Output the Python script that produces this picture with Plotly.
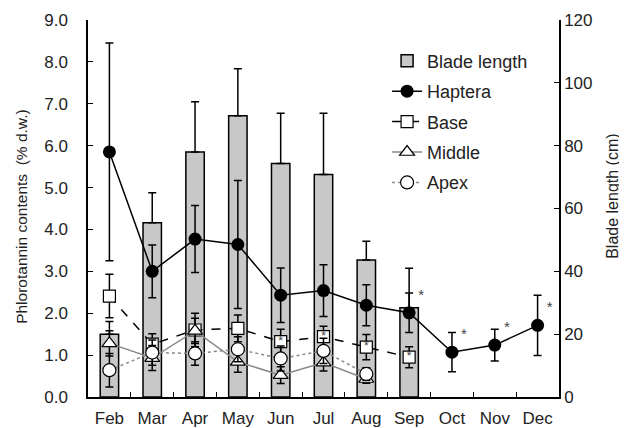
import plotly.graph_objects as go

months = ["Feb", "Mar", "Apr", "May", "Jun", "Jul", "Aug", "Sep", "Oct", "Nov", "Dec"]
blade_len = [20, 55.5, 78, 89.5, 74.3, 70.8, 43.6, 28.4]
blade_err = [4, 9.5, 16, 15, 16, 19.5, 6, 12.6]
haptera = [5.85, 3.0, 3.77, 3.64, 2.43, 2.54, 2.19, 2.01, 1.07, 1.24, 1.71]
haptera_err = [2.6, 0.63, 0.8, 1.53, 0.65, 0.62, 0.49, 0.47, 0.47, 0.38, 0.72]
haptera_sig = ["", "", "", "", "", "", "", "*", "*", "*", "*"]
base = [2.41, 1.26, 1.6, 1.64, 1.32, 1.44, 1.19, 0.95]
base_err = [0.52, 0.25, 0.4, 0.32, 0.3, 0.25, 0.3, 0.25]
base_sig = ["", "", "", "", "*", "*", "*", "*"]
middle = [1.28, 0.93, 1.58, 0.84, 0.52, 0.82, 0.43]
middle_err = [0.3, 0.3, 0.3, 0.25, 0.2, 0.2, 0.1]
apex = [0.64, 1.06, 1.04, 1.14, 0.92, 1.1, 0.55]
apex_err = [0.4, 0.3, 0.28, 0.3, 0.3, 0.3, 0.15]

FONT = "Liberation Sans, Arial, sans-serif"
FS = 18
TFS = 17

def errs(arr, w=4):
    return dict(type="data", array=arr, visible=True, color="black", thickness=1.5, width=w)

fig = go.Figure()
fig.add_trace(go.Bar(
    x=months[:len(blade_len)], y=blade_len, name="Blade length", yaxis="y", legendgroup="a",
    marker=dict(color="#c8c8c8", line=dict(color="black", width=1.5)),
    error_y=dict(type="data", array=blade_err, arrayminus=[0]*len(blade_err), symmetric=False,
                 visible=True, color="black", thickness=1.5, width=4),
))
fig.add_trace(go.Scatter(
    x=months, y=haptera, name="Haptera", yaxis="y2", mode="lines+markers+text", legendgroup="b",
    text=haptera_sig, textposition="top right", textfont=dict(size=15, color="#444"),
    line=dict(color="black", width=1.5),
    marker=dict(symbol="circle", size=13, color="black"),
    error_y=errs(haptera_err),
))
fig.add_trace(go.Scatter(
    x=months[:len(base)], y=base, name="Base", yaxis="y2", mode="lines+markers+text", legendgroup="c",
    text=base_sig, textposition="middle center", textfont=dict(size=12, color="#444"),
    line=dict(color="black", width=1.5, dash="dash"),
    marker=dict(symbol="square", size=12, color="white", line=dict(color="black", width=1.2)),
    error_y=errs(base_err),
))
fig.add_trace(go.Scatter(
    x=months[:len(middle)], y=middle, name="Middle", yaxis="y2", mode="lines+markers", legendgroup="d",
    line=dict(color="#888888", width=1.5),
    marker=dict(symbol="triangle-up", size=13, color="white", line=dict(color="black", width=1.2)),
    error_y=errs(middle_err),
))
fig.add_trace(go.Scatter(
    x=months[:len(apex)], y=apex, name="Apex", yaxis="y2", mode="lines+markers", legendgroup="e",
    line=dict(color="#888888", width=1.5, dash="dot"),
    marker=dict(symbol="circle", size=13, color="white", line=dict(color="black", width=1.2)),
    error_y=errs(apex_err),
))

fig.update_layout(
    width=627, height=428,
    margin=dict(l=80, r=76, t=12, b=39),
    paper_bgcolor="white", plot_bgcolor="white",
    font=dict(family=FONT, size=FS, color="#222"),
    bargap=0.57,
    showlegend=True,
    legend=dict(x=0.635, y=0.94, xanchor="left", yanchor="top", bgcolor="rgba(0,0,0,0)",
                font=dict(size=FS), itemwidth=30, tracegroupgap=4, traceorder="grouped"),
    xaxis=dict(type="category", categoryorder="array", categoryarray=months,
               range=[-0.5, len(months) - 0.5], automargin=False,
               showline=True, linecolor="black", linewidth=1.5,
               ticks="inside", tickson="boundaries", ticklen=5, tickcolor="black",
               tickfont=dict(size=TFS), ticklabelstandoff=5,
               showgrid=False, zeroline=False),
    yaxis=dict(range=[0, 120], tickvals=[0, 20, 40, 60, 80, 100, 120], side="right",
               automargin=False, tickprefix="\u00a0\u00a0", tickfont=dict(size=TFS),
               showline=True, linecolor="black", linewidth=1.5,
               ticks="inside", ticklen=5, tickcolor="black", showgrid=False, zeroline=False),
    yaxis2=dict(range=[0, 9], tickvals=[0, 1, 2, 3, 4, 5, 6, 7, 8, 9], tickformat=".1f",
                overlaying="y", side="left", anchor="x", automargin=False, ticklabelstandoff=15,
                tickfont=dict(size=TFS),
                showline=True, linecolor="black", linewidth=1.5,
                ticks="inside", ticklen=5, tickcolor="black", showgrid=False, zeroline=False),
    annotations=[
        dict(text="Phlorotannin contents  (% d.w.)", xref="paper", yref="paper",
             x=-0.14, y=0.478, xanchor="center", yanchor="middle", textangle=-90,
             showarrow=False, font=dict(size=15.5)),
        dict(text="Blade length (cm)", xref="paper", yref="paper",
             x=1.112, y=0.533, xanchor="center", yanchor="middle", textangle=-90,
             showarrow=False, font=dict(size=16)),
    ],
)

fig.write_html("out.html")
